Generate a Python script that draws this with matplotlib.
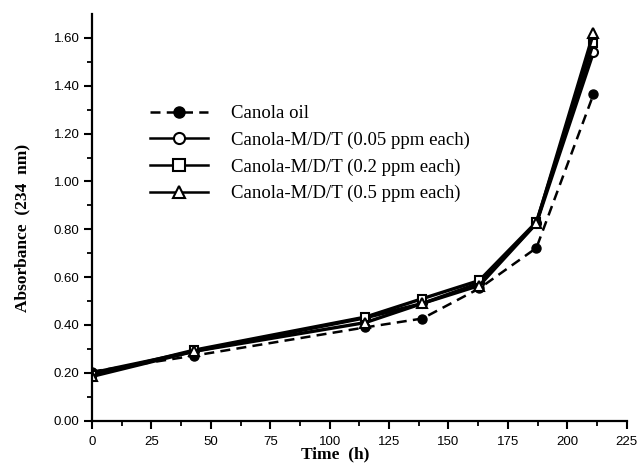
import matplotlib.pyplot as plt
import numpy as np

plt.switch_backend("agg")

# data
time_h = [0, 43, 115, 139, 163, 187, 211]
canola_oil = [0.205, 0.272, 0.39, 0.427, 0.553, 0.722, 1.364]
canola_005 = [0.20, 0.29, 0.43, 0.49, 0.575, 0.825, 1.54]
canola_02 = [0.19, 0.295, 0.433, 0.51, 0.586, 0.83, 1.58]
canola_05 = [0.185, 0.29, 0.41, 0.49, 0.565, 0.825, 1.62]

labels = [
    "Canola oil",
    "Canola-M/D/T (0.05 ppm each)",
    "Canola-M/D/T (0.2 ppm each)",
    "Canola-M/D/T (0.5 ppm each)",
]

x_ticks = [0, 25, 50, 75, 100, 125, 150, 175, 200, 225]
y_ticks = [0.0, 0.2, 0.4, 0.6, 0.8, 1.0, 1.2, 1.4, 1.6]

serif = "Liberation Serif"
sans = "Liberation Sans"

fig = plt.figure(figsize=(6.41, 4.65), dpi=100)
ax = fig.add_axes([0.1435, 0.0953, 0.8342, 0.8746])

ax.plot(time_h, canola_oil, linestyle=(0, (4, 2.5)), color="black", lw=1.8,
        marker="o", markersize=6.5, markerfacecolor="black",
        markeredgecolor="black", label=labels[0])
ax.plot(time_h, canola_005, linestyle="-", color="black", lw=2.4,
        marker="o", markersize=6.5, markerfacecolor="white",
        markeredgecolor="black", markeredgewidth=1.5, label=labels[1])
ax.plot(time_h, canola_02, linestyle="-", color="black", lw=2.4,
        marker="s", markersize=6, markerfacecolor="white",
        markeredgecolor="black", markeredgewidth=1.5, label=labels[2])
ax.plot(time_h, canola_05, linestyle="-", color="black", lw=2.4,
        marker="^", markersize=6.5, markerfacecolor="white",
        markeredgecolor="black", markeredgewidth=1.5, label=labels[3])

ax.set_xlim(0, 225)
ax.set_ylim(0, 1.70)
ax.set_xticks(x_ticks)
ax.set_xticks(np.arange(12.5, 225, 25), minor=True)
ax.set_yticks(y_ticks)
ax.set_yticks(np.arange(0.1, 1.70, 0.2), minor=True)
ax.set_xticklabels([str(t) for t in x_ticks], fontfamily=sans, fontsize=9.5)
ax.set_yticklabels(["%.2f" % v for v in y_ticks], fontfamily=sans, fontsize=9.5)

for side in ["top", "right"]:
    ax.spines[side].set_visible(False)
for side in ["left", "bottom"]:
    ax.spines[side].set_linewidth(1.6)

ax.tick_params(which="major", direction="out", length=6, width=1.5, pad=3)
ax.tick_params(axis="x", which="major", pad=5)
ax.tick_params(which="minor", direction="out", length=3.5, width=1.3)

ax.set_xlabel("Time  (h)", fontfamily=serif, fontweight="bold", fontsize=12.5)
ax.xaxis.set_label_coords(0.455, -0.064)
ax.set_ylabel("Absorbance  (234  nm)", fontfamily=serif, fontweight="bold",
              fontsize=12.5)
ax.yaxis.set_label_coords(-0.115, 0.474)

leg = ax.legend(loc="upper left", bbox_to_anchor=(150 / 641, 1 - 105 / 465),
                bbox_transform=fig.transFigure, frameon=False,
                prop={"family": serif, "size": 13.5}, handlelength=3.1,
                handletextpad=1.2, labelspacing=0.5, borderpad=0,
                borderaxespad=0)
for line in leg.get_lines():
    line.set_linewidth(1.8)
    line.set_markersize(8)

fig.savefig("out.png", dpi=100)
